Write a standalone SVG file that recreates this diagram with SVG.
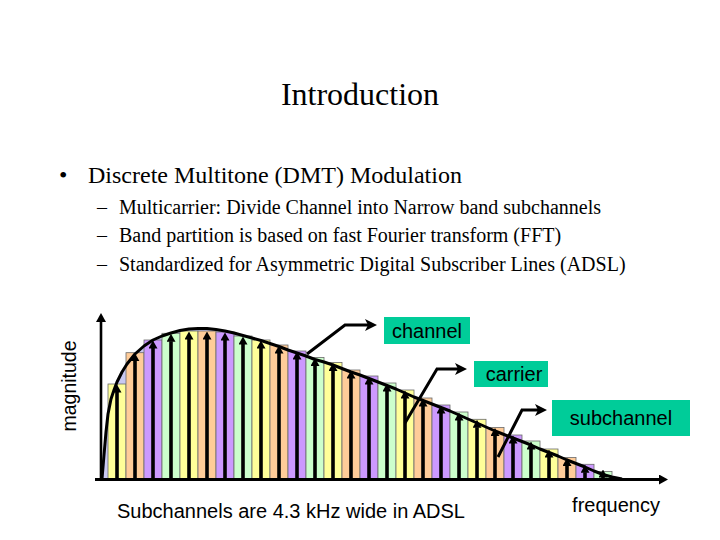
<svg xmlns="http://www.w3.org/2000/svg" width="720" height="540" viewBox="0 0 720 540">
<style>
.serif{font-family:"Liberation Serif","Times New Roman",serif;fill:#000}
.sans{font-family:"Liberation Sans",Arial,sans-serif;fill:#000}
.bar{stroke:#6a6a6a;stroke-width:0.8}
.y{fill:#ffff99}.o{fill:#ffcc99}.p{fill:#cc99ff}.g{fill:#ccffcc}
.car{stroke:#000;stroke-width:3.6;marker-end:url(#ch)}
.ptr{fill:none;stroke:#000;stroke-width:3;stroke-linejoin:miter;marker-end:url(#ph)}
.lbl{fill:#00cc99}
</style>
<defs>
<marker id="ch" viewBox="0 0 8 9" refX="0.5" refY="4.5" markerWidth="8" markerHeight="9" markerUnits="userSpaceOnUse" orient="auto"><path d="M0,0 L8,4.5 L0,9 z" fill="#000"/></marker>
<marker id="ph" viewBox="0 0 12 12" refX="3" refY="6" markerWidth="12" markerHeight="12" markerUnits="userSpaceOnUse" orient="auto"><path d="M0,0 L12,6 L0,12 L3,6 z" fill="#000"/></marker>
<marker id="ax" viewBox="0 0 9 10" refX="1" refY="5" markerWidth="9" markerHeight="10" markerUnits="userSpaceOnUse" orient="auto"><path d="M0,0 L9,5 L0,10 z" fill="#000"/></marker>
</defs>
<rect width="720" height="540" fill="#fff"/>
<g id="title"><text class="serif" x="360" y="105" font-size="32" text-anchor="middle">Introduction</text></g>
<g id="bullets">
<text class="serif" x="59" y="183" font-size="24">•</text>
<text class="serif" x="88" y="183" font-size="24">Discrete Multitone (DMT) Modulation</text>
<text class="serif" x="97" y="214" font-size="20">–</text>
<text class="serif" x="119" y="214" font-size="20">Multicarrier: Divide Channel into Narrow band subchannels</text>
<text class="serif" x="97" y="242" font-size="20">–</text>
<text class="serif" x="119" y="242" font-size="20">Band partition is based on fast Fourier transform (FFT)</text>
<text class="serif" x="97" y="271" font-size="20">–</text>
<text class="serif" x="119" y="271" font-size="20">Standardized for Asymmetric Digital Subscriber Lines (ADSL)</text>
</g>
<g id="chart">
<path id="envelope-fill" d="M102,479 L104,455 L106,432 L108,414 L111,399 L114,390 L117,382 L122,372 L127,364 L135,354 L144,346 L153,340 L162,336 L171,333 L180,330.5 L189,329 L198,328.5 L207,328.5 L216,329.5 L225,331 L234,333 L243,335.5 L252,338 L261,340.5 L270,343.5 L279,346.5 L288,350 L297,353 L306,356 L315,359.5 L324,362 L333,365 L342,368.5 L351,372 L360,375 L369,378.5 L378,382 L387,385.5 L396,389 L405,393 L414,397 L423,400.5 L432,404 L441,407.5 L450,411 L459,415 L468,419 L477,423 L486,427 L495,431 L504,434.5 L513,438 L522,441.5 L531,445 L540,449 L549,452.5 L558,456 L567,460 L576,463.5 L585,467 L594,471 L603,474.5 L612,477 L622,479 Z" fill="#c9c9f2"/>
<g id="bars">
<rect class="bar y" x="108" y="384" width="18" height="95"/>
<rect class="bar o" x="126" y="352.7" width="18" height="126.3"/>
<rect class="bar p" x="144" y="340" width="18" height="139"/>
<rect class="bar g" x="162" y="333.3" width="18" height="145.7"/>
<rect class="bar y" x="180" y="331" width="18" height="148"/>
<rect class="bar o" x="198" y="331" width="18" height="148"/>
<rect class="bar p" x="216" y="332" width="18" height="147"/>
<rect class="bar g" x="234" y="336" width="18" height="143"/>
<rect class="bar y" x="252" y="340" width="18" height="139"/>
<rect class="bar o" x="270" y="345" width="18" height="134"/>
<rect class="bar p" x="288" y="351" width="18" height="128"/>
<rect class="bar g" x="306" y="357.5" width="18" height="121.5"/>
<rect class="bar y" x="324" y="362.5" width="18" height="116.5"/>
<rect class="bar o" x="342" y="370" width="18" height="109"/>
<rect class="bar p" x="360" y="376" width="18" height="103"/>
<rect class="bar g" x="378" y="383" width="18" height="96"/>
<rect class="bar y" x="396" y="390" width="18" height="89"/>
<rect class="bar o" x="414" y="398" width="18" height="81"/>
<rect class="bar p" x="432" y="405" width="18" height="74"/>
<rect class="bar g" x="450" y="412" width="18" height="67"/>
<rect class="bar y" x="468" y="419.3" width="18" height="59.7"/>
<rect class="bar o" x="486" y="427.5" width="18" height="51.5"/>
<rect class="bar p" x="504" y="435" width="18" height="44"/>
<rect class="bar g" x="522" y="441" width="18" height="38"/>
<rect class="bar y" x="540" y="449" width="18" height="30"/>
<rect class="bar o" x="558" y="457.5" width="18" height="21.5"/>
<rect class="bar p" x="576" y="464.3" width="18" height="14.7"/>
<rect class="bar g" x="594" y="471.5" width="18" height="7.5"/>
</g>
<path id="envelope" d="M102,479 L104,455 L106,432 L108,414 L111,399 L114,390 L117,382 L122,372 L127,364 L135,354 L144,346 L153,340 L162,336 L171,333 L180,330.5 L189,329 L198,328.5 L207,328.5 L216,329.5 L225,331 L234,333 L243,335.5 L252,338 L261,340.5 L270,343.5 L279,346.5 L288,350 L297,353 L306,356 L315,359.5 L324,362 L333,365 L342,368.5 L351,372 L360,375 L369,378.5 L378,382 L387,385.5 L396,389 L405,393 L414,397 L423,400.5 L432,404 L441,407.5 L450,411 L459,415 L468,419 L477,423 L486,427 L495,431 L504,434.5 L513,438 L522,441.5 L531,445 L540,449 L549,452.5 L558,456 L567,460 L576,463.5 L585,467 L594,471 L603,474.5 L612,477 L622,479" fill="none" stroke="#000" stroke-width="3" stroke-linejoin="round"/>
<g id="carriers">
<line class="car" x1="117" y1="479" x2="117" y2="392"/>
<line class="car" x1="135" y1="479" x2="135" y2="360.7"/>
<line class="car" x1="153" y1="479" x2="153" y2="348"/>
<line class="car" x1="171" y1="479" x2="171" y2="341.3"/>
<line class="car" x1="189" y1="479" x2="189" y2="339"/>
<line class="car" x1="207" y1="479" x2="207" y2="339"/>
<line class="car" x1="225" y1="479" x2="225" y2="340"/>
<line class="car" x1="243" y1="479" x2="243" y2="344"/>
<line class="car" x1="261" y1="479" x2="261" y2="348"/>
<line class="car" x1="279" y1="479" x2="279" y2="353"/>
<line class="car" x1="297" y1="479" x2="297" y2="359"/>
<line class="car" x1="315" y1="479" x2="315" y2="365.5"/>
<line class="car" x1="333" y1="479" x2="333" y2="370.5"/>
<line class="car" x1="351" y1="479" x2="351" y2="378"/>
<line class="car" x1="369" y1="479" x2="369" y2="384"/>
<line class="car" x1="387" y1="479" x2="387" y2="391"/>
<line class="car" x1="405" y1="479" x2="405" y2="398"/>
<line class="car" x1="423" y1="479" x2="423" y2="406"/>
<line class="car" x1="441" y1="479" x2="441" y2="413"/>
<line class="car" x1="459" y1="479" x2="459" y2="420"/>
<line class="car" x1="477" y1="479" x2="477" y2="427.3"/>
<line class="car" x1="495" y1="479" x2="495" y2="435.5"/>
<line class="car" x1="513" y1="479" x2="513" y2="443"/>
<line class="car" x1="531" y1="479" x2="531" y2="449"/>
<line class="car" x1="549" y1="479" x2="549" y2="457"/>
<line class="car" x1="567" y1="479" x2="567" y2="465.5"/>
<line class="car" x1="585" y1="479" x2="585" y2="472.3"/>
<line class="car" x1="603" y1="479" x2="603" y2="477"/>
</g>
<g id="axes">
<line x1="101" y1="480" x2="101" y2="321" stroke="#000" stroke-width="2.6" marker-end="url(#ax)"/>
<line x1="95" y1="479.5" x2="660" y2="479.5" stroke="#000" stroke-width="3" marker-end="url(#ax)"/>
</g>
</g>
<g id="connectors">
<polyline class="ptr" points="307,354 345,325 368,325"/>
<polyline class="ptr" points="405,423 437,369 458,369"/>
<polyline class="ptr" points="498,457 522,410 538,410"/>
</g>
<g id="label-channel"><rect class="lbl" x="384" y="317" width="86" height="27"/><text class="sans" x="427" y="338" font-size="20" text-anchor="middle">channel</text></g>
<g id="label-carrier"><rect class="lbl" x="474" y="361" width="74" height="26"/><text class="sans" x="514" y="381" font-size="20" text-anchor="middle">carrier</text></g>
<g id="label-subchannel"><rect class="lbl" x="552" y="400" width="138" height="36"/><text class="sans" x="621" y="425" font-size="20" text-anchor="middle">subchannel</text></g>
<g id="axis-labels">
<text class="sans" x="0" y="0" font-size="19.5" text-anchor="middle" transform="translate(76,386) rotate(-90)">magnitude</text>
<text class="sans" x="616" y="512" font-size="20" text-anchor="middle">frequency</text>
<text class="sans" x="117" y="518" font-size="20">Subchannels are 4.3 kHz wide in ADSL</text>
</g>
</svg>
